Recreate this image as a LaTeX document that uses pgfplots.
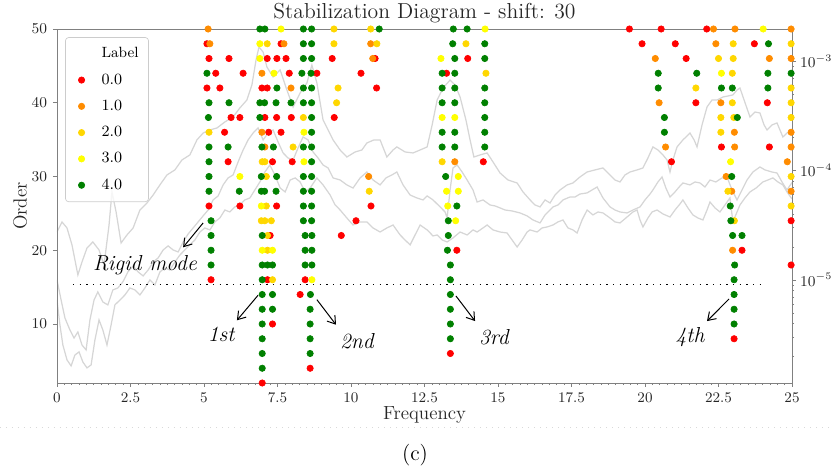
\documentclass[border=0pt]{standalone}
\usepackage{pgfplots}
\pgfplotsset{compat=1.18}
\usetikzlibrary{arrows.meta}
\definecolor{lab0}{HTML}{FF0000}
\definecolor{lab1}{HTML}{FF8C00}
\definecolor{lab2}{HTML}{FFD700}
\definecolor{lab3}{HTML}{FFFF00}
\definecolor{lab4}{HTML}{008000}
\definecolor{psd}{HTML}{D6D6D6}
\begin{document}
\begin{tikzpicture}
\useasboundingbox (-34.2pt,-54pt) rectangle (464.4pt,229.8pt);
\pgfplotsset{every axis/.append style={scale only axis,width=441pt,height=212.4pt,xmin=0,xmax=25}}
% singular value curves, right log axis (values given as log10)
\begin{axis}[
  ymin=-5.941,ymax=-2.708,
  axis x line=none, axis y line*=right,
  axis line style={black!50},
  ytick={-5,-4,-3}, yticklabels={$10^{-5}$,$10^{-4}$,$10^{-3}$},
  minor ytick={-5.699,-5.523,-5.398,-5.301,-5.222,-5.155,-5.097,-5.046,
    -4.699,-4.523,-4.398,-4.301,-4.222,-4.155,-4.097,-4.046,
    -3.699,-3.523,-3.398,-3.301,-3.222,-3.155,-3.097,-3.046},
  tick align=outside, major tick length=2.4pt, minor tick length=1.3pt,
  every tick/.style={black!50},
  yticklabel style={font=\fontsize{8.8}{10}\selectfont,text=black!85,xshift=-1pt},
]
\addplot[psd,line width=0.75pt] coordinates {
(0,-4.562)(0.17,-4.470)(0.34,-4.525)(0.51,-4.680)(0.71,-4.954)(0.85,-4.836)(1.02,-4.708)(1.22,-4.653)(1.43,-4.726)(1.60,-4.863)
(1.77,-4.498)(1.87,-4.196)(2.01,-4.379)(2.18,-4.662)(2.38,-4.589)(2.59,-4.525)(2.82,-4.361)(3.06,-4.297)(3.27,-4.224)(3.50,-4.132)
(3.74,-4.041)(4.01,-3.995)(4.25,-3.904)(4.52,-3.858)(4.76,-3.721)(4.97,-3.658)(5.20,-3.630)(5.44,-3.612)(5.71,-3.557)(5.99,-3.511)
(6.22,-3.429)(6.46,-3.356)(6.63,-3.219)(6.77,-2.991)(6.87,-2.872)(7.01,-2.918)(7.14,-3.055)(7.35,-3.146)(7.59,-3.082)(7.82,-3.265)
(8.03,-3.420)(8.27,-3.292)(8.50,-3.201)(8.67,-3.037)(8.84,-3.201)(9.05,-3.539)(9.39,-3.721)(9.63,-3.813)(9.86,-3.877)(10.14,-3.831)
(10.37,-3.813)(10.54,-3.749)(10.78,-3.721)(10.99,-3.721)(11.22,-3.877)(11.43,-3.813)(11.56,-3.785)(11.84,-3.831)(12.11,-3.840)(12.35,-3.813)
(12.59,-3.785)(12.76,-3.584)(12.93,-3.356)(13.13,-3.247)(13.37,-3.174)(13.54,-3.219)(13.71,-3.329)(13.91,-3.539)(14.05,-3.721)(14.18,-3.877)
(14.39,-3.858)(14.63,-3.840)(14.83,-3.922)(15.07,-4.023)(15.34,-4.087)(15.65,-4.114)(15.85,-4.196)(16.09,-4.269)(16.26,-4.315)(16.43,-4.333)
(16.60,-4.269)(16.77,-4.297)(16.94,-4.224)(17.11,-4.178)(17.35,-4.132)(17.55,-4.114)(17.79,-4.059)(18.03,-4.014)(18.30,-3.995)(18.57,-3.977)
(18.81,-4.041)(18.98,-4.087)(19.15,-4.105)(19.32,-4.041)(19.49,-4.014)(19.73,-3.995)(19.93,-3.977)(20.10,-3.886)(20.27,-3.785)(20.44,-3.813)
(20.61,-3.858)(20.75,-3.904)(20.85,-4.014)(20.95,-3.904)(21.09,-3.785)(21.29,-3.721)(21.53,-3.658)(21.67,-3.721)(21.77,-3.785)(21.94,-3.584)
(22.11,-3.420)(22.28,-3.356)(22.45,-3.356)(22.65,-3.329)(22.82,-3.320)(22.99,-3.310)(23.13,-3.265)(23.23,-3.247)(23.37,-3.356)(23.57,-3.511)
(23.74,-3.466)(23.91,-3.475)(24.05,-3.584)(24.15,-3.630)(24.32,-3.584)(24.49,-3.566)(24.59,-3.630)(24.69,-3.694)(24.83,-3.658)(25,-3.640)
};
\addplot[psd,line width=0.75pt] coordinates {
(0,-5.000)(0.14,-5.183)(0.27,-5.347)(0.44,-5.457)(0.58,-5.530)(0.71,-5.475)(0.85,-5.594)(0.99,-5.639)(1.12,-5.365)(1.26,-5.183)
(1.39,-5.109)(1.56,-5.201)(1.73,-5.228)(1.90,-5.091)(2.07,-5.073)(2.24,-5.018)(2.41,-4.927)(2.59,-4.872)(2.76,-4.927)(2.93,-4.963)
(3.10,-4.909)(3.27,-4.836)(3.44,-4.799)(3.61,-4.726)(3.78,-4.689)(3.95,-4.726)(4.12,-4.744)(4.29,-4.653)(4.46,-4.580)(4.63,-4.525)
(4.80,-4.470)(4.97,-4.415)(5.14,-4.361)(5.31,-4.269)(5.48,-4.233)(5.65,-4.132)(5.82,-4.068)(5.99,-4.041)(6.16,-3.922)(6.33,-3.813)
(6.50,-3.721)(6.67,-3.658)(6.84,-3.612)(7.01,-3.721)(7.18,-3.658)(7.35,-3.630)(7.52,-3.740)(7.69,-3.840)(7.86,-3.886)(8.03,-3.904)
(8.20,-3.794)(8.37,-3.694)(8.54,-3.721)(8.71,-3.831)(8.88,-3.886)(9.05,-3.950)(9.22,-3.977)(9.39,-4.068)(9.63,-4.087)(9.86,-4.132)
(10.07,-4.160)(10.31,-4.068)(10.54,-4.014)(10.75,-4.087)(10.99,-4.132)(11.19,-4.068)(11.39,-4.041)(11.56,-4.014)(11.77,-4.132)(12.01,-4.224)
(12.24,-4.251)(12.45,-4.269)(12.59,-4.233)(12.79,-4.269)(13.03,-4.333)(13.20,-4.379)(13.27,-4.434)(13.37,-4.178)(13.47,-3.977)(13.61,-3.950)
(13.78,-4.014)(13.95,-4.087)(14.15,-4.178)(14.29,-4.288)(14.49,-4.269)(14.73,-4.315)(14.90,-4.324)(15.07,-4.342)(15.24,-4.361)(15.48,-4.370)
(15.75,-4.388)(15.99,-4.415)(16.19,-4.452)(16.43,-4.479)(16.60,-4.406)(16.77,-4.361)(16.87,-4.333)(17.04,-4.315)(17.21,-4.269)(17.45,-4.242)
(17.62,-4.242)(17.79,-4.215)(18.03,-4.205)(18.20,-4.178)(18.37,-4.151)(18.57,-4.251)(18.81,-4.333)(18.98,-4.361)(19.15,-4.379)(19.39,-4.388)
(19.59,-4.361)(19.83,-4.333)(20.00,-4.269)(20.17,-4.215)(20.27,-4.178)(20.44,-4.105)(20.58,-4.059)(20.71,-4.160)(20.85,-4.242)(21.02,-4.196)
(21.19,-4.142)(21.29,-4.114)(21.53,-4.132)(21.70,-4.105)(21.87,-4.114)(22.04,-4.151)(22.21,-4.087)(22.41,-4.105)(22.62,-4.068)(22.79,-4.059)
(22.96,-4.178)(23.13,-4.269)(23.30,-4.178)(23.47,-4.087)(23.67,-4.014)(23.91,-3.968)(24.08,-3.995)(24.32,-4.014)(24.49,-4.023)(24.66,-4.105)
(24.83,-4.178)(25,-4.110)
};
\addplot[psd,line width=0.75pt] coordinates {
(0,-5.183)(0.10,-5.411)(0.20,-5.594)(0.34,-5.730)(0.48,-5.785)(0.61,-5.685)(0.75,-5.657)(0.88,-5.749)(1.02,-5.803)(1.16,-5.776)
(1.29,-5.548)(1.43,-5.365)(1.56,-5.457)(1.70,-5.594)(1.84,-5.411)(1.97,-5.228)(2.14,-5.183)(2.31,-5.137)(2.48,-5.073)(2.65,-5.091)
(2.82,-5.137)(2.99,-5.073)(3.16,-5.000)(3.33,-5.046)(3.50,-4.927)(3.67,-4.890)(3.84,-4.909)(4.01,-4.836)(4.18,-4.772)(4.35,-4.726)
(4.52,-4.680)(4.69,-4.635)(4.86,-4.562)(5.03,-4.525)(5.20,-4.543)(5.37,-4.470)(5.54,-4.434)(5.71,-4.361)(5.88,-4.379)(6.05,-4.333)
(6.22,-4.315)(6.39,-4.269)(6.56,-4.251)(6.73,-4.178)(6.90,-4.105)(7.07,-4.014)(7.24,-3.950)(7.41,-4.041)(7.59,-4.160)(7.76,-4.196)
(7.93,-4.087)(8.10,-4.068)(8.27,-4.105)(8.44,-4.196)(8.61,-4.160)(8.84,-4.068)(9.05,-4.132)(9.29,-4.224)(9.46,-4.315)(9.63,-4.361)
(9.86,-4.434)(10.07,-4.498)(10.31,-4.470)(10.54,-4.470)(10.75,-4.525)(10.99,-4.562)(11.22,-4.525)(11.43,-4.498)(11.67,-4.589)(11.84,-4.635)
(12.01,-4.680)(12.18,-4.589)(12.35,-4.498)(12.59,-4.543)(12.79,-4.598)(12.93,-4.589)(13.10,-4.635)(13.27,-4.653)(13.47,-4.616)(13.71,-4.562)
(13.95,-4.589)(14.15,-4.543)(14.29,-4.562)(14.49,-4.525)(14.63,-4.498)(14.83,-4.543)(15.07,-4.562)(15.31,-4.571)(15.48,-4.635)(15.65,-4.699)
(15.82,-4.635)(15.99,-4.562)(16.09,-4.543)(16.33,-4.562)(16.50,-4.525)(16.67,-4.516)(16.87,-4.498)(17.04,-4.470)(17.21,-4.452)(17.38,-4.525)
(17.55,-4.543)(17.69,-4.571)(17.86,-4.452)(18.03,-4.361)(18.23,-4.406)(18.40,-4.379)(18.57,-4.388)(18.81,-4.434)(18.98,-4.470)(19.15,-4.479)
(19.39,-4.425)(19.59,-4.379)(19.73,-4.361)(19.83,-4.452)(19.93,-4.516)(20.10,-4.434)(20.24,-4.379)(20.41,-4.361)(20.61,-4.397)(20.85,-4.425)
(21.02,-4.361)(21.19,-4.306)(21.29,-4.269)(21.46,-4.342)(21.63,-4.406)(21.80,-4.434)(21.97,-4.452)(22.11,-4.361)(22.21,-4.288)(22.38,-4.342)
(22.55,-4.379)(22.72,-4.315)(22.89,-4.251)(22.99,-4.470)(23.13,-4.379)(23.23,-4.315)(23.40,-4.251)(23.57,-4.196)(23.78,-4.160)(24.01,-4.105)
(24.18,-4.087)(24.35,-4.068)(24.52,-4.105)(24.69,-4.132)(24.83,-4.196)(25,-4.260)
};
\end{axis}
% stabilization poles
\begin{axis}[
  ymin=2,ymax=50,
  axis line style={black!50},
  xtick={0,2.5,5,7.5,10,12.5,15,17.5,20,22.5,25},
  xticklabels={0,2.5,5,7.5,10,12.5,15,17.5,20,22.5,25},
  minor x tick num=9,
  ytick={10,20,30,40,50},
  xtick pos=bottom, ytick pos=left,
  tick align=outside, major tick length=2.4pt, minor tick length=1.3pt,
  every tick/.style={black!50},
  tick label style={font=\fontsize{8.8}{10}\selectfont,text=black!85},
  xlabel={Frequency}, ylabel={Order},
  label style={font=\fontsize{11.4}{13}\selectfont,text=black!85},
  xlabel style={at={(axis description cs:0.5,-0.09)},anchor=center},
  ylabel style={at={(axis description cs:-0.05,0.5)},anchor=center},
  title={Stabilization Diagram - shift: 30},
  title style={font=\fontsize{13}{15}\selectfont,text=black!85,at={(axis description cs:0.5,1)},anchor=center,yshift=3.3pt},
  legend style={at={(0.011,0.977)},anchor=north west,draw=black!20,fill=white,fill opacity=0.8,text opacity=1,
    rounded corners=2pt,font=\fontsize{9.4}{11}\selectfont,row sep=4pt,inner xsep=4pt,inner ysep=4pt},
  legend cell align=left,
  legend image code/.code={\path[draw=none,fill=none] (0cm,-0.05cm) rectangle (0.55cm,0.05cm);
    \draw[#1,fill opacity=1,draw opacity=1] plot coordinates {(0.2cm,0cm)};},
  every axis plot/.append style={only marks,mark=*,mark size=1.9pt},
]
\addlegendimage{empty legend}\addlegendentry{\fontsize{8.9}{10}\selectfont Label}
\addplot[lab0] coordinates {
(5.10,48)(5.17,46)(5.85,46)(5.40,44)(6.33,44)(5.10,42)(5.54,42)(5.92,38)(6.22,38)(5.70,36)(5.82,32)(5.17,26)(6.22,26)(5.24,16)
(7.62,48)(7.15,46)(7.48,46)(7.79,46)(9.36,46)(10.82,46)(7.90,44)(8.84,44)(10.34,44)(6.97,42)(7.15,42)(10.87,42)
(7.07,38)(7.47,38)(7.97,38)(9.43,38)(7.20,36)(7.62,36)(7.33,32)(8.00,32)(7.47,26)(10.68,26)(10.17,24)(7.25,22)(9.67,22)
(7.16,16)(8.44,16)(8.27,14)(7.33,10)(8.61,4)(6.98,2)
(13.97,46)(13.25,44)(14.50,32)(13.60,20)(13.38,6)
(19.47,50)(20.55,50)(22.10,50)(19.90,48)(21.03,48)(23.72,48)(21.40,46)(21.73,40)(24.16,40)(22.60,34)(24.23,34)(20.90,32)
(24.97,24)(23.30,20)(24.97,18)(23.03,8)
};
\addlegendentry{0.0}
\addplot[lab1] coordinates {
(5.14,50)(5.20,48)(7.72,48)(6.97,44)(7.96,42)(6.97,36)(7.07,34)(10.67,48)(10.74,46)(13.53,32)(10.60,30)
(22.33,50)(23.06,50)(24.97,50)(22.41,48)(20.35,46)(24.23,46)(24.97,46)(20.48,40)(22.58,40)(23.04,36)(24.97,36)
(20.70,34)(23.05,34)(24.97,34)(24.84,32)(22.76,30)(22.95,28)(24.97,28)(22.98,20)
};
\addlegendentry{1.0}
\addplot[lab2] coordinates {
(5.17,36)(7.15,48)(8.38,38)(8.03,34)(6.98,32)(7.07,32)(7.12,30)(7.12,26)(6.95,24)(7.07,24)(7.29,24)(7.16,22)(7.16,20)(7.33,16)
(9.42,50)(10.67,50)(9.42,48)(10.88,48)(13.91,48)(14.59,44)(9.56,42)(9.51,40)(13.10,32)(10.62,28)
(23.00,48)(24.97,48)(22.50,46)(23.00,46)(22.97,44)(21.73,42)(24.97,42)(22.97,40)(24.97,40)(22.58,38)(23.02,38)(24.97,38)
(22.58,36)(24.97,30)(22.82,28)(24.97,26)(23.04,24)
};
\addlegendentry{2.0}
\addplot[lab3] coordinates {
(7.62,50)(6.90,48)(6.90,46)(7.38,44)(8.40,36)(8.40,32)(6.22,30)(6.95,26)(6.98,20)(7.33,20)(8.67,16)
(14.56,50)(13.06,46)(13.10,38)(13.53,38)(13.65,30)(13.25,28)(13.65,28)(13.29,26)(13.56,24)
(24.02,50)(22.60,44)(22.91,32)
};
\addlegendentry{3.0}
\addplot[lab4] coordinates {
(5.10,44)(5.17,40)(5.85,40)(5.15,38)(5.17,34)(5.82,34)(5.17,32)(5.17,30)(6.20,28)(5.17,28)(5.24,24)(5.24,22)(5.24,20)(5.24,18)
(6.90,50)(7.07,50)(8.38,50)(8.66,50)(8.38,48)(8.66,48)(8.38,46)(8.66,46)(8.33,44)(8.64,44)(7.48,42)(8.38,42)(8.66,42)
(6.90,40)(7.06,40)(7.45,40)(7.96,40)(8.38,40)(8.66,40)(6.90,38)(8.66,38)(8.66,36)(6.97,34)(7.36,34)(8.38,34)(8.66,34)(8.66,32)
(6.95,30)(7.47,30)(8.38,30)(8.66,30)(6.95,28)(7.06,28)(7.45,28)(8.38,28)(8.66,28)(8.38,26)(8.66,26)(8.38,24)(8.66,24)
(6.98,22)(8.44,22)(8.67,22)(8.44,20)(8.67,20)(6.98,18)(7.16,18)(7.33,18)(8.44,18)(8.67,18)(6.98,16)
(6.98,14)(7.33,14)(8.62,14)(6.98,12)(7.33,12)(8.61,12)(6.98,10)(8.61,10)(6.98,8)(8.61,8)(6.98,6)(8.61,6)(6.98,4)
(10.96,50)(13.48,50)(13.95,50)(13.46,48)(14.55,48)(13.53,46)(14.55,46)(13.10,44)(13.53,44)(13.10,42)(13.53,42)(14.55,42)
(13.10,40)(13.53,40)(14.55,40)(14.55,38)(13.10,36)(13.53,36)(14.55,36)(13.10,34)(13.53,34)(14.55,34)(13.22,30)(13.60,26)
(13.31,24)(13.31,22)(13.28,20)(13.38,18)(13.38,16)(13.38,14)(13.38,12)(13.38,10)(13.38,8)
(24.20,48)(20.45,44)(21.76,44)(24.18,44)(24.97,44)(20.45,42)(22.60,42)(22.97,42)(24.18,42)(20.66,38)(23.14,38)(20.66,36)
(22.95,30)(22.90,26)(22.92,24)(22.98,22)(23.30,22)(23.05,18)(23.03,16)(23.03,14)(23.03,12)(23.03,10)
};
\addlegendentry{4.0}
\addplot[black,sharp plot,no marks,line width=0.6pt,dash pattern=on 0.8pt off 3.2pt] coordinates {(0.54,15.4)(24.05,15.4)};
\begin{scope}[line width=0.6pt,-{Straight Barb[length=4.5pt,width=6pt]}]
\draw (axis cs:4.97,23.7) -- (axis cs:4.29,20.4);
\draw (axis cs:6.84,13.9) -- (axis cs:6.12,10.5);
\draw (axis cs:8.84,13.3) -- (axis cs:9.49,9.9);
\draw (axis cs:13.57,13.8) -- (axis cs:14.22,10.4);
\draw (axis cs:22.86,13.4) -- (axis cs:22.11,10.4);
\end{scope}
\begin{scope}[every node/.style={font=\fontsize{13}{15}\selectfont\itshape}]
\node at (axis cs:2.99,18.0) {Rigid mode};
\node at (axis cs:5.58,8.6) {1st};
\node at (axis cs:10.20,7.6) {2nd};
\node at (axis cs:14.86,8.2) {3rd};
\node at (axis cs:21.53,8.2) {4th};
\end{scope}
\end{axis}
\draw[black!15,line width=0.6pt,dash pattern=on 0.6pt off 3pt] (-34.2pt,-27pt) -- (464.4pt,-27pt);
\node[font=\fontsize{13}{15}\selectfont] at (214.8pt,-43.2pt) {(c)};
\end{tikzpicture}
\end{document}
